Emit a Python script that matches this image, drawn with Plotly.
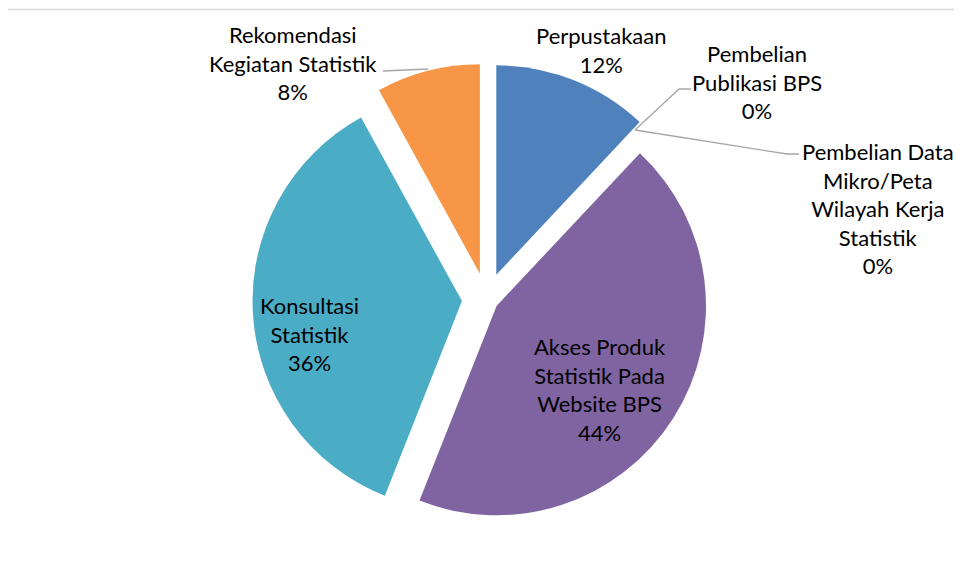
import plotly.graph_objects as go

# ---- data ----
categories = [
    "Perpustakaan",
    "Pembelian<br>Publikasi BPS",
    "Pembelian Data<br>Mikro/Peta<br>Wilayah Kerja<br>Statistik",
    "Akses Produk<br>Statistik Pada<br>Website BPS",
    "Konsultasi<br>Statistik",
    "Rekomendasi<br>Kegiatan Statistik",
]
values = [12, 0, 0, 44, 36, 8]
colors = ["#4F81BD", "#C0504D", "#9BBB59", "#8064A2", "#4BACC6", "#F79646"]
pulls = [0.127, 0, 0, 0.057, 0.1175, 0.127]

W, H = 962, 581
OFF = 8  # page body margin offset


def px(x):
    return (x - OFF) / W


def py(y):
    return 1 - (y - OFF) / H


# pie geometry (page pixels)
cx, cy, half = 486.5, 299.5, 236.0

fig = go.Figure()
fig.add_trace(go.Pie(
    labels=[c.replace("<br>", " ") for c in categories],
    values=values,
    sort=False,
    direction="clockwise",
    rotation=0,
    pull=pulls,
    marker=dict(colors=colors, line=dict(width=0)),
    textinfo="none",
    hoverinfo="label+percent",
    showlegend=False,
    domain=dict(x=[px(cx - half), px(cx + half)], y=[py(cy + half), py(cy - half)]),
))

total = sum(values)
label_pos = [(601, 50), (757, 82), (878, 208), (600, 389), (309, 334), (293, 63)]
for cat, v, (lx, ly) in zip(categories, values, label_pos):
    fig.add_annotation(
        x=px(lx), y=py(ly), xref="paper", yref="paper",
        text=f"{cat}<br>{round(100 * v / total)}%",
        showarrow=False, xanchor="center", yanchor="middle",
        font=dict(family="Lato", size=22, color="#000000"),
    )

# leader lines
leaders = [
    [(383, 71), (428, 69)],
    [(635, 130), (679, 89), (691, 89)],
    [(635, 130), (787, 154), (799, 154)],
]
shapes = []
for pts in leaders:
    path = "M " + " L ".join(f"{px(x)},{py(y)}" for x, y in pts)
    shapes.append(dict(type="path", xref="paper", yref="paper", path=path,
                       line=dict(color="#A6A6A6", width=1.3)))
# chart border
shapes.append(dict(type="rect", xref="paper", yref="paper",
                   x0=px(4.5), x1=px(W + 20), y0=py(H + 20), y1=py(9.5),
                   line=dict(color="#D9D9D9", width=1.5)))

fig.update_layout(
    width=W, height=H,
    margin=dict(l=0, r=0, t=0, b=0),
    paper_bgcolor="white",
    plot_bgcolor="white",
    shapes=shapes,
)

fig.write_html("out.html")
